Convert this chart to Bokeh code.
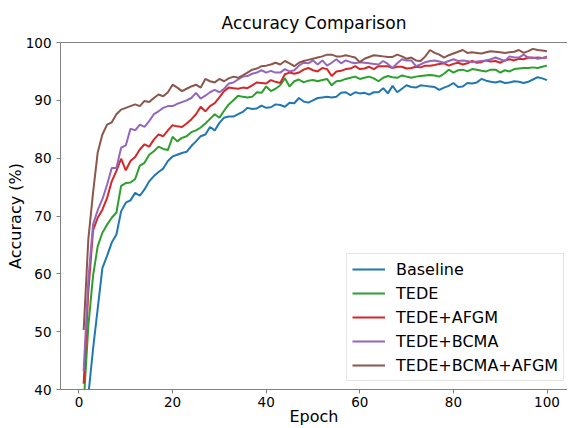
from bokeh.plotting import figure
from bokeh.models import Range1d, LinearAxis, FixedTicker
from bokeh.embed import file_html
from bokeh.resources import INLINE

epochs = list(range(1, 101))

baseline = [36.5, 39.0, 47.0, 54.0, 61.0, 63.1, 65.4, 66.8, 70.8, 72.3,
            72.7, 74.0, 73.5, 74.6, 76.0, 76.9, 77.6, 78.2, 79.5, 80.3,
            80.6, 80.9, 81.1, 82.1, 82.9, 83.8, 84.1, 85.4, 84.8, 86.1,
            87.0, 87.2, 87.2, 87.6, 88.0, 88.7, 88.5, 88.6, 89.1, 88.7,
            88.8, 89.3, 89.2, 88.9, 89.6, 89.5, 90.4, 89.8, 89.6, 90.0,
            90.4, 90.5, 90.6, 90.5, 90.6, 91.3, 91.4, 90.9, 91.4, 91.2,
            91.3, 91.0, 91.4, 91.4, 92.1, 91.2, 92.5, 91.4, 92.0, 92.6,
            92.3, 92.2, 92.6, 92.5, 92.4, 92.3, 91.8, 92.2, 92.5, 93.0,
            92.3, 92.4, 93.0, 92.9, 93.1, 93.7, 93.4, 93.2, 93.1, 93.3,
            93.0, 93.1, 93.3, 93.2, 93.0, 93.2, 93.6, 94.0, 93.8, 93.5]

tede = [37.5, 51.0, 59.6, 64.8, 67.1, 68.5, 69.7, 70.6, 75.2, 75.7,
        75.8, 76.4, 78.7, 79.2, 80.6, 81.2, 82.0, 81.6, 81.4, 83.7,
        82.9, 83.5, 83.8, 84.5, 84.8, 85.3, 86.0, 86.8, 87.6, 87.0,
        88.2, 89.3, 90.0, 90.8, 90.6, 90.5, 90.6, 91.4, 91.3, 92.4,
        91.6, 92.0, 92.6, 93.8, 92.4, 93.3, 93.6, 93.1, 93.4, 93.5,
        93.3, 93.5, 93.7, 92.6, 93.3, 93.4, 93.7, 93.9, 94.1, 93.7,
        93.9, 94.1, 93.8, 93.3, 93.9, 94.2, 94.0, 93.9, 94.3, 94.1,
        93.9, 94.1, 94.2, 94.3, 94.4, 94.3, 94.1, 94.6, 95.3, 94.8,
        95.2, 95.3, 95.0, 95.4, 95.3, 95.1, 95.0, 95.3, 95.3, 94.8,
        95.2, 95.0, 95.4, 95.5, 95.6, 95.6, 95.7, 95.6, 95.8, 96.0]

tede_afgm = [41.0, 57.0, 67.5, 69.7, 71.1, 73.1, 76.0, 77.8, 79.9, 77.9,
             79.5, 80.2, 81.5, 82.4, 82.0, 83.2, 84.1, 83.8, 84.8, 85.7,
             85.5, 85.4, 86.0, 86.7, 87.6, 88.9, 88.1, 89.0, 89.5, 90.5,
             91.6, 92.2, 92.1, 92.0, 92.2, 92.1, 92.6, 93.1, 93.0, 92.9,
             93.5, 93.2, 93.0, 94.5, 94.8, 94.6, 94.8, 95.3, 95.6, 95.2,
             95.0, 95.6, 95.4, 94.2, 95.0, 95.1, 95.4, 95.5, 95.9, 95.4,
             95.5, 95.8, 95.4, 95.9, 95.9, 95.9, 95.6, 95.8, 95.8, 95.5,
             95.6, 95.8, 95.7, 96.0, 96.0, 96.1, 96.3, 96.4, 96.0, 96.3,
             96.5, 96.2, 96.4, 96.8, 96.5, 96.6, 96.9, 96.7, 96.8, 96.5,
             96.9, 97.1, 96.9, 97.2, 97.1, 97.4, 97.3, 97.4, 97.3, 97.4]

tede_bcma = [43.2, 59.0, 68.5, 71.0, 72.9, 75.4, 78.3, 78.3, 81.8, 82.2,
             85.1, 84.8, 85.8, 85.4, 86.4, 87.6, 88.1, 88.7, 89.0, 89.0,
             89.4, 89.7, 90.0, 90.4, 91.3, 90.3, 90.8, 91.4, 91.8, 91.4,
             92.0, 92.9, 93.1, 93.6, 94.1, 94.2, 94.6, 94.8, 95.2, 94.8,
             95.1, 94.8, 94.8, 95.4, 95.0, 95.2, 96.0, 96.5, 96.4, 96.9,
             96.2, 96.9, 96.0, 96.5, 97.1, 96.4, 96.9, 96.6, 96.4, 96.6,
             96.5, 96.4, 96.3, 96.2, 96.8, 96.3, 95.6, 96.4, 97.1, 96.9,
             96.9, 95.9, 96.2, 96.6, 96.8, 96.9, 96.7, 96.5, 96.8, 97.1,
             96.8, 96.9, 96.8, 96.6, 96.7, 96.8, 96.9, 97.1, 97.4, 97.1,
             96.8, 97.6, 97.4, 97.4, 97.9, 97.4, 97.4, 97.2, 97.3, 97.6]

tede_bcma_afgm = [50.3, 66.0, 74.0, 81.0, 84.1, 85.8, 86.2, 87.6, 88.4, 88.7,
                  89.0, 89.3, 89.0, 89.9, 89.7, 90.4, 91.0, 90.7, 91.4, 92.7,
                  92.2, 91.6, 92.0, 92.4, 92.7, 92.2, 93.7, 93.3, 93.1, 93.7,
                  93.3, 93.8, 94.1, 93.9, 94.3, 94.8, 95.3, 95.5, 95.9, 96.0,
                  96.2, 96.5, 96.2, 96.8, 96.4, 95.9, 96.5, 96.8, 97.0, 97.2,
                  97.4, 97.6, 97.9, 97.9, 97.6, 97.6, 97.8, 97.6, 97.4, 96.6,
                  97.2, 97.5, 97.8, 97.7, 97.6, 97.5, 97.5, 97.9, 97.6, 97.2,
                  97.4, 96.9, 96.8, 97.6, 98.7, 98.2, 97.9, 97.4, 97.8, 98.1,
                  98.4, 98.7, 98.2, 98.3, 98.2, 98.1, 98.3, 98.5, 98.4, 98.3,
                  98.2, 98.3, 98.4, 98.7, 98.2, 98.5, 98.9, 98.7, 98.6, 98.5]

series_names = ["Baseline", "TEDE", "TEDE+AFGM", "TEDE+BCMA", "TEDE+BCMA+AFGM"]
series_colors = ["#1f77b4", "#2ca02c", "#d62728", "#9467bd", "#8c564b"]
x_ticks = [0, 20, 40, 60, 80, 100]
y_ticks = [40, 50, 60, 70, 80, 90, 100]

FONT = "DejaVu Sans"
SPINE = "#808080"

p = figure(frame_width=507, frame_height=347, output_backend="svg", toolbar_location=None,
           x_range=Range1d(-3.95, 104.38), y_range=Range1d(40, 100),
           min_border_left=60, min_border_right=0, min_border_top=42,
           min_border_bottom=30, title="Accuracy Comparison")

p.outline_line_color = None
p.xgrid.visible = False
p.ygrid.visible = False
p.background_fill_color = "white"
p.border_fill_color = "white"

p.title.align = "center"
p.title.text_font = FONT
p.title.text_font_size = "17px"
p.title.text_font_style = "normal"
p.title.text_color = "black"
p.title.standoff = 20

for ax in (p.xaxis[0], p.yaxis[0]):
    ax.axis_line_color = SPINE
    ax.major_tick_line_color = SPINE
    ax.major_tick_in = 0
    ax.major_tick_out = 4
    ax.minor_tick_line_color = None
    ax.major_label_text_font = FONT
    ax.major_label_text_font_size = "13.5px"
    ax.major_label_text_color = "black"
    ax.axis_label_text_font = FONT
    ax.axis_label_text_font_size = "16px"
    ax.axis_label_text_font_style = "normal"
    ax.axis_label_text_color = "black"

p.xaxis.ticker = FixedTicker(ticks=x_ticks)
p.yaxis.ticker = FixedTicker(ticks=y_ticks)
p.xaxis.axis_label = "Epoch"
p.yaxis.axis_label = "Accuracy (%)"
p.xaxis.major_label_standoff = 3
p.xaxis.axis_label_standoff = -3
p.yaxis.major_label_standoff = 5
p.yaxis.axis_label_standoff = -2

top = LinearAxis(ticker=FixedTicker(ticks=[]), axis_line_color=SPINE,
                 major_tick_line_color=None, minor_tick_line_color=None,
                 major_tick_out=0, major_tick_in=0, minor_tick_out=0, minor_tick_in=0,
                 major_label_standoff=0, axis_label_standoff=0,
                 major_label_text_font_size="0px")
p.add_layout(top, "above")

all_series = [baseline, tede, tede_afgm, tede_bcma, tede_bcma_afgm]
for name, color, vals in zip(series_names, series_colors, all_series):
    p.line(epochs, vals, line_color=color, line_width=2, legend_label=name)

lg = p.legend[0]
lg.location = (286, 8)
lg.label_text_font = FONT
lg.label_text_font_size = "16px"
lg.label_text_color = "black"
lg.glyph_width = 33
lg.glyph_height = 20
lg.label_height = 20
lg.label_standoff = 11
lg.spacing = 4
lg.padding = 5
lg.margin = 0
lg.border_line_color = "#cccccc"
lg.border_line_width = 1
lg.background_fill_color = "white"
lg.background_fill_alpha = 0.8

open("out.html", "w").write(file_html(p, INLINE))
